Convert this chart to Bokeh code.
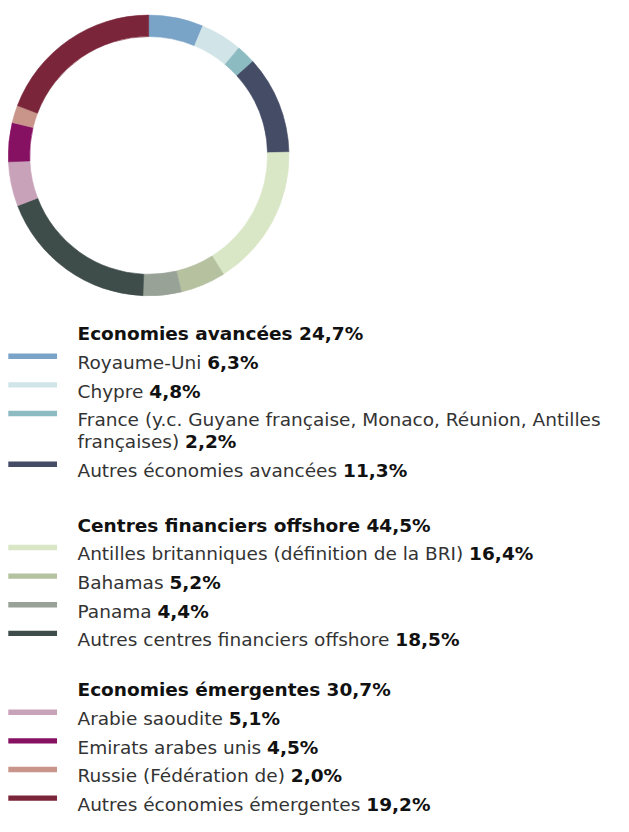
import math
import os
import subprocess
from bokeh.plotting import figure
from bokeh.models import Range1d, ColumnDataSource
from bokeh.core.properties import value
from bokeh.embed import file_html
from bokeh.resources import INLINE

# ---------------- data ----------------
names = [
    "Royaume-Uni",
    "Chypre",
    "France (y.c. Guyane française, Monaco, Réunion, Antilles françaises)",
    "Autres économies avancées",
    "Antilles britanniques (définition de la BRI)",
    "Bahamas",
    "Panama",
    "Autres centres financiers offshore",
    "Arabie saoudite",
    "Emirats arabes unis",
    "Russie (Fédération de)",
    "Autres économies émergentes",
]
values = [6.3, 4.8, 2.2, 11.3, 16.4, 5.2, 4.4, 18.5, 5.1, 4.5, 2.0, 19.2]
group_of = [0, 0, 0, 0, 1, 1, 1, 1, 2, 2, 2, 2]
groups = ["Economies avancées", "Centres financiers offshore", "Economies émergentes"]
group_totals = [24.7, 44.5, 30.7]

# ---------------- styles / layout ----------------
colors = ["#7AA3C8", "#D1E4E8", "#8CBCC2", "#454D66",
          "#DAE7C7", "#B5C19F", "#98A297", "#3F4D4A",
          "#C8A2B8", "#861163", "#C9958B", "#7A2539"]
wrap_items = {2: 1}              # item index -> number of words moved to a 2nd line
ref_bold_x = [213, 153, 188, 356, 480, 174, 162, 408, 234, 273, 297, 370]
header_base = [340, 535, 703]
row_pitch = 29.2
wrap_pitch = 22.5
TEXT_X = 79
FONT = "DejaVu Sans"
FS_PX = 18.5
NORMAL_COLOR = "#333333"
BOLD_COLOR = "#111111"

# design space = reference pixels; drawn into a figure that fits the window
DW, DH = 629, 832
W, H = 613, 816
XS = W / DW                      # screen px per design unit


def Y(py):
    return DH - py


def fmt(v):
    return f"{v:.1f}%".replace(".", ",")


# ---- text measuring (to place the bold value right after the label) ----
def find_font(pattern, fallbacks):
    try:
        out = subprocess.run(["fc-match", "-f", "%{file}", pattern],
                             capture_output=True, text=True, timeout=5).stdout.strip()
        if out and os.path.exists(out):
            return out
    except Exception:
        pass
    for f in fallbacks:
        if os.path.exists(f):
            return f
    return None


measure = None
try:
    from PIL import ImageFont
    reg = find_font("DejaVu Sans:style=Book",
                    ["/usr/share/fonts/truetype/dejavu/DejaVuSans.ttf",
                     "/usr/share/fonts/dejavu/DejaVuSans.ttf",
                     "/usr/share/fonts/TTF/DejaVuSans.ttf"])
    if reg and "DejaVuSans" in os.path.basename(reg):
        _f = ImageFont.truetype(reg, 100)
        measure = lambda s: _f.getlength(s) * FS_PX / 100.0
except Exception:
    measure = None


p = figure(width=W, height=H, x_range=Range1d(0, DW), y_range=Range1d(0, DH),
           output_backend="svg", toolbar_location=None, min_border=0)
p.axis.visible = False
p.grid.visible = False
p.outline_line_color = None

# ---------------- donut ----------------
total = sum(values)
starts, ends = [], []
cum = 0.0
for v in values:
    a0 = math.pi / 2 - 2 * math.pi * cum / total
    cum += v
    a1 = math.pi / 2 - 2 * math.pi * cum / total
    starts.append(a1)
    ends.append(a0)

donut = ColumnDataSource(dict(start=starts, end=ends, color=colors))
p.annular_wedge(x=152, y=Y(158), inner_radius=122, outer_radius=144,
                start_angle="start", end_angle="end", direction="anticlock",
                fill_color="color", line_color="color", line_width=0.6,
                source=donut)

# ---------------- legend ----------------
hx, hy, htxt = [], [], []
nx, ny, ntxt = [], [], []
bx, by, btxt = [], [], []
sw_y, sw_c = [], []

for g, gname in enumerate(groups):
    base = header_base[g]
    hx.append(TEXT_X)
    hy.append(Y(base))
    htxt.append(f"{gname} {fmt(group_totals[g])}")
    y = base
    for i, name in enumerate(names):
        if group_of[i] != g:
            continue
        y += row_pitch
        sw_y.append(Y(y - 6.5))
        sw_c.append(colors[i])
        if i in wrap_items:
            words = name.split(" ")
            k = wrap_items[i]
            first = " ".join(words[:-k])
            last = " ".join(words[-k:])
            nx.append(TEXT_X); ny.append(Y(y)); ntxt.append(first)
            y += wrap_pitch
            nx.append(TEXT_X); ny.append(Y(y)); ntxt.append(last)
        else:
            last = name
            nx.append(TEXT_X); ny.append(Y(y)); ntxt.append(name)
        if measure is not None:
            xb = TEXT_X + measure(last + " ") / XS
        else:
            xb = ref_bold_x[i]
        bx.append(xb); by.append(Y(y)); btxt.append(fmt(values[i]))

sw = ColumnDataSource(dict(y=sw_y, color=sw_c))
p.rect(x=33, y="y", width=50, height=5.5, fill_color="color",
       line_color=None, source=sw)

FS = f"{FS_PX}px"
p.text(x=hx, y=hy, text=htxt, text_font=value(FONT), text_font_size=FS,
       text_font_style="bold", text_color=BOLD_COLOR,
       text_baseline="alphabetic", text_align="left")
p.text(x=nx, y=ny, text=ntxt, text_font=value(FONT), text_font_size=FS,
       text_color=NORMAL_COLOR, text_baseline="alphabetic", text_align="left")
p.text(x=bx, y=by, text=btxt, text_font=value(FONT), text_font_size=FS,
       text_font_style="bold", text_color=BOLD_COLOR,
       text_baseline="alphabetic", text_align="left")

open("out.html", "w").write(file_html(p, INLINE))
